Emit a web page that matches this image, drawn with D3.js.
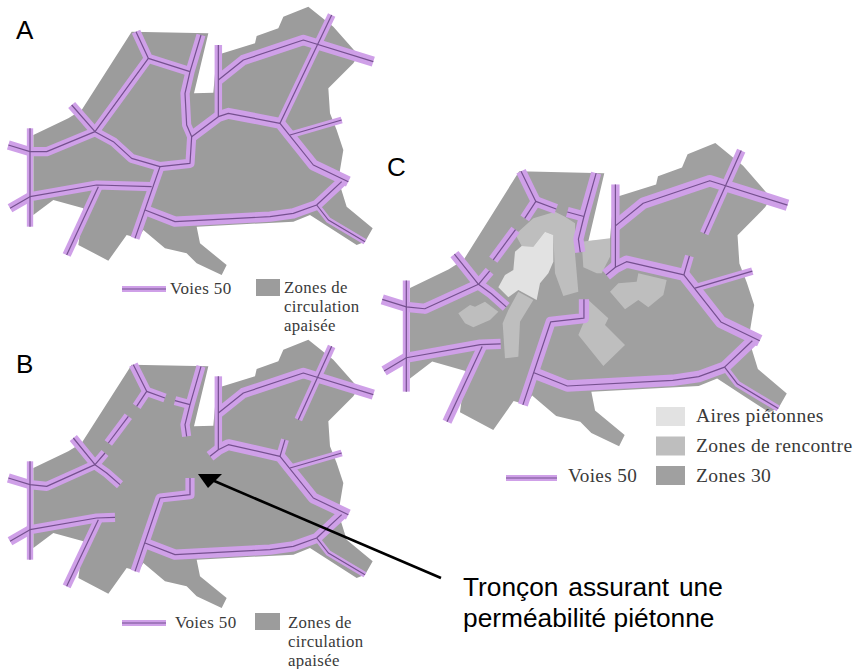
<!DOCTYPE html>
<html><head><meta charset="utf-8">
<script src="https://cdn.jsdelivr.net/npm/d3@7"></script>
<style>html,body{margin:0;padding:0;background:#fff}svg{display:block}</style>
</head><body><svg id="c" width="856" height="669"></svg>
<script>
// Map geometry (map units)
const outline=[[395,95],[625,100],[582,280],[640,278],[650,165],[668,160],[765,130],[770,108],[835,85],[850,50],[925,20],[1000,80],[1075,165],[1060,190],[985,265],[990,340],[1010,390],[1030,450],[1015,540],[1040,620],[1118,685],[1095,725],[1070,735],[1000,690],[930,645],[880,665],[590,680],[600,730],[680,795],[665,825],[590,790],[560,760],[495,745],[430,690],[415,715],[380,705],[325,782],[235,735],[250,625],[160,600],[100,645],[100,405],[205,355],[245,330]];
const roadsFull=[
[[408,95],[445,175],[570,215]],
[[603,105],[570,215],[555,280],[560,375],[575,410],[570,490],[480,500],[395,475],[340,425],[285,395]],
[[445,175],[285,395],[140,455],[90,455],[25,435]],
[[215,315],[285,395]],
[[90,385],[90,680]],
[[30,625],[90,590],[290,555],[455,560]],
[[295,560],[200,765]],
[[480,500],[405,715]],
[[435,630],[525,665],[810,650],[880,640],[950,615],[1025,545]],
[[950,615],[985,660],[1095,725]],
[[1045,545],[940,495],[840,370],[685,340],[655,350],[575,410]],
[[655,135],[655,350]],
[[655,240],[730,180],[910,120],[1120,185]],
[[995,45],[840,370]],
[[870,405],[1025,360]]];
const roadsFullWidth=[8,8,8,8,5.5,8,7.5,8,9,5,9.5,6.5,9,7,6];
const roadsCut=[
[[400,95],[440,175],[410,220]],
[[440,175],[495,195]],
[[525,203],[570,215]],
[[603,100],[570,215],[555,275],[560,310]],
[[385,250],[325,330]],
[[220,315],[285,395],[320,420],[360,455]],
[[315,360],[285,395],[140,460],[90,455],[25,435]],
[[90,385],[90,680]],
[[30,625],[90,590],[290,555],[345,553]],
[[295,560],[200,760]],
[[570,435],[570,485],[480,495],[405,715]],
[[435,630],[525,665],[810,650],[880,640],[950,615],[1025,545]],
[[950,615],[985,660],[1095,725]],
[[1045,545],[940,495],[840,370],[685,335],[655,350],[630,370]],
[[655,130],[655,350]],
[[655,240],[730,180],[910,120],[1120,185]],
[[995,40],[895,260]],
[[855,320],[840,370]],
[[870,405],[1025,360]]];
const roadsCutWidth=[8,8,8,8,8,8,8,5.5,8,7.5,8,9,5,9.5,6.5,9,7,7,6];
// Zones of panel C (zone units)
const pedestrian=[[[495,305],[520,315],[520,395],[505,430],[480,460],[470,510],[415,480],[385,502],[355,472],[375,435],[400,420],[405,365],[425,348],[460,350]]];
const meeting=[
[[415,305],[460,265],[525,245],[555,260],[585,280],[585,370],[595,485],[550,498],[525,430],[520,315],[495,305],[460,350],[425,348],[410,320]],
[[605,335],[690,325],[690,380],[665,430],[650,430],[610,412]],
[[690,485],[715,460],[770,455],[775,430],[860,450],[850,495],[805,532],[775,510],[735,538]],
[[625,510],[685,565],[675,585],[735,645],[670,708],[595,615],[610,580],[620,550]],
[[415,485],[460,510],[420,575],[415,680],[375,685],[368,580],[385,540]],
[[235,550],[270,525],[285,530],[315,515],[355,545],[330,570],[280,592],[255,580]]];
const panelLabels=["A","B","C"];
const calloutLines=["Tronçon assurant une","perméabilité piétonne"];
const legendAB=["Zones de","circulation","apaisée"];
const legendC=["Aires piétonnes","Zones de rencontre","Zones 30"];
const roadLabel="Voies 50";

const svg=d3.select("#c");
const sans="'Liberation Sans',Arial,sans-serif", serif="'Liberation Serif',serif";
const GR="#9c9c9c",GC="#a0a0a0",GM="#bebebe",GP="#e2e2e2",PL="#cfa0e8",PD="#75508f";
function panel(xr,yr,roads,widths,k,fill){
  const x=d3.scaleLinear().domain([0,1170]).range(xr),y=d3.scaleLinear().domain([0,1020]).range(yr);
  const ln=d3.line().x(d=>x(d[0])).y(d=>y(d[1]));
  const g=svg.append("g");
  g.append("path").attr("d",ln(outline)+"Z").attr("fill",fill);
  return {g,draw(){
    g.selectAll(null).data(roads).join("path").attr("d",d=>ln(d)).attr("fill","none").attr("stroke",PL).attr("stroke-width",(d,i)=>widths[i]*k).attr("stroke-linejoin","round");
    g.selectAll(null).data(roads).join("path").attr("d",d=>ln(d)).attr("fill","none").attr("stroke",PD).attr("stroke-width",1.2).attr("stroke-linejoin","round");
  }};
}
panel([0,390],[0,340],roadsFull,roadsFullWidth,1.15,GR).draw();
panel([0,390],[333,673],roadsCut,roadsCutWidth,1.15,GR).draw();
const pc=panel([373,806],[135.5,519.7],roadsCut,roadsCutWidth,1.28,GC);
const zx=d3.scaleLinear().domain([0,1260]).range([380,800]),zy=d3.scaleLinear().domain([0,1110]).range([130,500]);
const zl=d3.line().x(d=>zx(d[0])).y(d=>zy(d[1]));
pc.g.selectAll(null).data(meeting).join("path").attr("d",d=>zl(d)+"Z").attr("fill",GM);
pc.g.selectAll(null).data(pedestrian).join("path").attr("d",d=>zl(d)+"Z").attr("fill",GP);
pc.draw();

// panel letters
svg.selectAll(null).data(panelLabels).join("text").text(d=>d)
 .attr("x",(d,i)=>[16,16,387][i]).attr("y",(d,i)=>[39,373,176][i])
 .attr("font-family",sans).attr("font-size",26).attr("fill","#000");

function road(x1,x2,y){
  svg.append("line").attr("x1",x1).attr("x2",x2).attr("y1",y).attr("y2",y).attr("stroke",PL).attr("stroke-width",6);
  svg.append("line").attr("x1",x1).attr("x2",x2).attr("y1",y).attr("y2",y).attr("stroke",PD).attr("stroke-width",1.2);
}
function label(t,x,y,s){svg.append("text").text(t).attr("x",x).attr("y",y).attr("font-family",serif).attr("font-size",s).attr("fill","#3a3a3a").attr("letter-spacing",.35);}
// legend A
road(122,166,289);label(roadLabel,170,294,17);
svg.append("rect").attr("x",256).attr("y",279).attr("width",24).attr("height",17).attr("fill",GR);
legendAB.forEach((t,i)=>label(t,284,[293,312,331][i],16.8));
// legend B
road(122,166,623);label(roadLabel,175,628,17);
svg.append("rect").attr("x",255).attr("y",613).attr("width",25).attr("height",17).attr("fill",GR);
legendAB.forEach((t,i)=>label(t,288,[628,647,666][i],16.8));
// legend C
road(506,557,478);label(roadLabel,568,482,19.2);
legendC.forEach((t,i)=>{
  svg.append("rect").attr("x",656).attr("y",407+29.5*i).attr("width",29).attr("height",19).attr("fill",[GP,GM,GC][i]);
  label(t,696,422+30*i,19.6);
});
// callout
svg.append("line").attr("x1",441).attr("y1",578).attr("x2",212).attr("y2",480).attr("stroke","#000").attr("stroke-width",2.6);
svg.append("path").attr("d",d3.line()([[198,474],[222,474],[208,488]])+"Z").attr("fill","#000");
calloutLines.forEach((t,i)=>svg.append("text").text(t).attr("x",463).attr("y",[596,627][i]).attr("font-family",sans).attr("font-size",26.3).attr("word-spacing",i?0:2.5).attr("fill","#000"));
</script></body></html>
